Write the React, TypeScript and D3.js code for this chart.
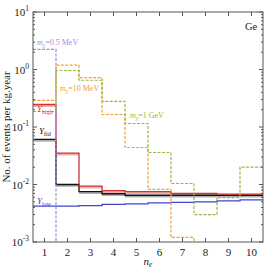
import React from "react";
import * as d3 from "d3";

const bins = [1, 2, 3, 4, 5, 6, 7, 8, 9, 10];
const mchi05MeV = [2.23, 1e-5, 1e-5, 1e-5, 1e-5, 1e-5, 1e-5, 1e-5, 1e-5, 1e-5];
const mchi10MeV = [0.29, 1.19, 0.72, 0.165, 0.044, 0.0082, 0.0012, 1e-5, 1e-5, 1e-5];
const mchi1GeV = [0.186, 0.96, 0.65, 0.28, 0.115, 0.036, 0.0104, 0.003, 0.0059, 0.02];
const yHigh = [0.246, 0.035, 0.0094, 0.0078, 0.0075, 0.0075, 0.007, 0.007, 0.0068, 0.0068];
const yFid = [0.061, 0.01, 0.0075, 0.0069, 0.0065, 0.0065, 0.0065, 0.0065, 0.0065, 0.0065];
const yLow = [0.0042, 0.0042, 0.0043, 0.0045, 0.0046, 0.0048, 0.0049, 0.005, 0.0052, 0.0054];
const xTicks = [1, 2, 3, 4, 5, 6, 7, 8, 9, 10];
const yDecades = [-3, -2, -1, 0, 1];

const L = 33, R = 263, T = 12, B = 242;
const FONT = "'Liberation Serif', 'DejaVu Serif', serif";

export default function App() {
  const x = d3.scaleLinear().domain([0.5, 10.5]).range([L, R]);
  const y = d3.scaleLog().domain([1e-3, 10]).range([B, T]);

  const stepPts = (vals: number[]) =>
    vals.flatMap((v, i) => [[bins[i] - 0.5, v], [bins[i] + 0.5, v]] as [number, number][]);
  const line = d3.line<[number, number]>().x(d => x(d[0])).y(d => y(Math.max(d[1], 1e-5)));
  const band = d3.area<[number, number]>()
    .x(d => x(d[0]))
    .y0(d => y(d[1] * 0.91))
    .y1(d => y(d[1]));

  const minor: number[] = [];
  for (let e = -3; e < 1; e++) for (let k = 2; k <= 9; k++) minor.push(k * Math.pow(10, e));

  const frame = "#555";
  return (
    <svg width={266} height={269} style={{ position: "absolute", left: 0, top: 0 }} fontFamily={FONT}>
      <defs>
        <clipPath id="pc"><rect x={L} y={T} width={R - L} height={B - T} /></clipPath>
      </defs>
      <rect width={266} height={269} fill="white" />
      <g clipPath="url(#pc)">
        <path d={band(stepPts(yHigh)) || ""} fill="#efb0b0" />
        <path d={band(stepPts(yFid)) || ""} fill="#b0b0b0" />
        <path d={line(stepPts(yLow)) || ""} fill="none" stroke="#4444cc" strokeWidth={1.3} />
        <path d={line(stepPts(yFid)) || ""} fill="none" stroke="#111" strokeWidth={1.3} />
        <path d={line(stepPts(yHigh)) || ""} fill="none" stroke="#cc3333" strokeWidth={1.3} />
        <path d={line(stepPts(mchi05MeV)) || ""} fill="none" stroke="#9c90e0" strokeWidth={1.2} strokeDasharray="3,1.5" />
        <path d={line(stepPts(mchi10MeV)) || ""} fill="none" stroke="#f0a030" strokeWidth={1.2} strokeDasharray="3,1.5" />
        <path d={line(stepPts(mchi1GeV)) || ""} fill="none" stroke="#99b840" strokeWidth={1.2} strokeDasharray="3,1.5" />
      </g>
      <rect x={L} y={T} width={R - L} height={B - T} fill="none" stroke={frame} strokeWidth={1} />
      {xTicks.map(t => (
        <g key={"x" + t}>
          <line x1={x(t)} x2={x(t)} y1={B} y2={B - 4} stroke={frame} />
          <line x1={x(t)} x2={x(t)} y1={T} y2={T + 4} stroke={frame} />
          <text x={x(t)} y={256} textAnchor="middle" fontSize={11} fill="#222">{t}</text>
        </g>
      ))}
      {yDecades.map(e => (
        <g key={"y" + e}>
          <line x1={L} x2={L + 4} y1={y(Math.pow(10, e))} y2={y(Math.pow(10, e))} stroke={frame} />
          <line x1={R} x2={R - 4} y1={y(Math.pow(10, e))} y2={y(Math.pow(10, e))} stroke={frame} />
          <text x={29} y={y(Math.pow(10, e)) + 4} textAnchor="end" fontSize={11} fill="#222">
            10<tspan dy={-5} fontSize={7.5}>{e}</tspan>
          </text>
        </g>
      ))}
      {minor.map((m, i) => (
        <g key={"m" + i}>
          <line x1={L} x2={L + 2} y1={y(m)} y2={y(m)} stroke={frame} />
          <line x1={R} x2={R - 2} y1={y(m)} y2={y(m)} stroke={frame} />
        </g>
      ))}
      <text transform={`translate(10,${(T + B) / 2}) rotate(-90)`} textAnchor="middle" fontSize={11} fill="#222">
        No. of events per kg.year
      </text>
      <text x={(L + R) / 2} y={265} textAnchor="middle" fontSize={11} fill="#222" fontStyle="italic">
        n<tspan dy={2} fontSize={7.5}>e</tspan>
      </text>
      <text x={251} y={30} textAnchor="middle" fontSize={10.5} fill="#222">Ge</text>
      <text x={37} y={45} fontSize={8} fill="#9c90e0">
        <tspan fontStyle="italic">m</tspan><tspan dy={1.5} fontSize={5.5} fontStyle="italic">χ</tspan><tspan dy={-1.5}>=0.5 MeV</tspan>
      </text>
      <text x={60} y={91} fontSize={8} fill="#f0a030">
        <tspan fontStyle="italic">m</tspan><tspan dy={1.5} fontSize={5.5} fontStyle="italic">χ</tspan><tspan dy={-1.5}>=10 MeV</tspan>
      </text>
      <text x={130} y={118} fontSize={8} fill="#99b840">
        <tspan fontStyle="italic">m</tspan><tspan dy={1.5} fontSize={5.5} fontStyle="italic">χ</tspan><tspan dy={-1.5}>=1 GeV</tspan>
      </text>
      <text x={37} y={112} fontSize={9} fill="#cc4444">
        <tspan fontStyle="italic">Y</tspan><tspan dy={2} fontSize={6}>high</tspan>
      </text>
      <text x={39} y={134} fontSize={9} fill="#111">
        <tspan fontStyle="italic">Y</tspan><tspan dy={2} fontSize={6}>fid</tspan>
      </text>
      <text x={37} y={204} fontSize={9} fill="#4444cc">
        <tspan fontStyle="italic">Y</tspan><tspan dy={2} fontSize={6}>low</tspan>
      </text>
    </svg>
  );
}
